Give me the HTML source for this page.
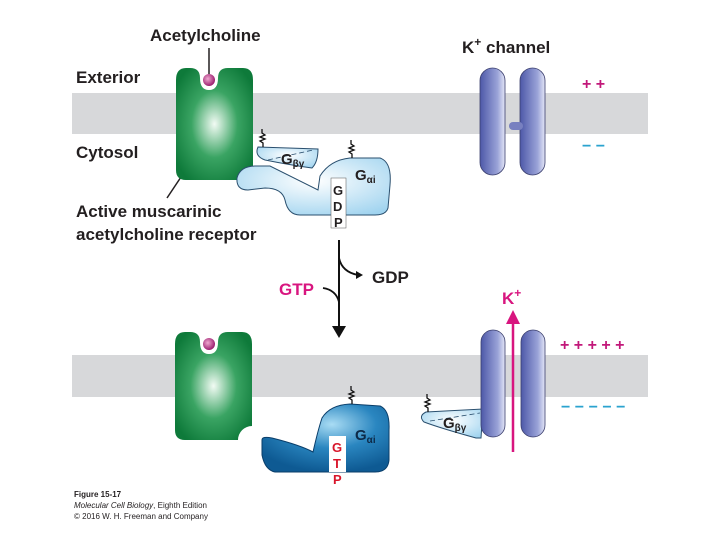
<!DOCTYPE html>
<html><head><meta charset="utf-8"><style>
body{margin:0;background:#fff}
svg{display:block}
text{font-family:"Liberation Sans",sans-serif;font-weight:bold}
</style></head><body>
<svg width="720" height="540" viewBox="0 0 720 540" xmlns="http://www.w3.org/2000/svg">
<defs>
<radialGradient id="gr" cx="0.5" cy="0.5" r="0.6"><stop offset="0" stop-color="#f2fbf4"/><stop offset="0.5" stop-color="#3aa463"/><stop offset="1" stop-color="#0e7a3a"/></radialGradient>
<radialGradient id="lb" cx="0.5" cy="0.4" r="0.7"><stop offset="0" stop-color="#ffffff"/><stop offset="1" stop-color="#9fd3ef"/></radialGradient>
<radialGradient id="db" cx="0.55" cy="0.3" r="0.7"><stop offset="0" stop-color="#a9dcf4"/><stop offset="0.5" stop-color="#2a86c0"/><stop offset="1" stop-color="#0e5a93"/></radialGradient>
<linearGradient id="ch" x1="0" x2="1"><stop offset="0" stop-color="#4d58a8"/><stop offset="0.7" stop-color="#9aa3d8"/><stop offset="1" stop-color="#e4e6f6"/></linearGradient>
<radialGradient id="lig" cx="0.4" cy="0.4" r="0.6"><stop offset="0" stop-color="#f0a8d0"/><stop offset="1" stop-color="#9c2070"/></radialGradient>
</defs>
<rect x="72" y="93" width="576" height="41" fill="#d7d8da"/>
<rect x="72" y="355" width="576" height="42" fill="#d7d8da"/>
<text x="150" y="41" font-size="17" fill="#231f20">Acetylcholine</text>
<line x1="209" y1="48" x2="209" y2="74" stroke="#231f20" stroke-width="1.5"/>
<text x="76" y="83" font-size="17" fill="#231f20">Exterior</text>
<text x="76" y="158" font-size="17" fill="#231f20">Cytosol</text>
<text x="76" y="217" font-size="17" fill="#231f20">Active muscarinic</text>
<text x="76" y="240" font-size="17" fill="#231f20">acetylcholine receptor</text>
<line x1="181" y1="177" x2="167" y2="198" stroke="#231f20" stroke-width="1.5"/>
<path d="M186,68 Q176,68 176,80 L176,170 Q176,180 186,180 L243,180 Q253,180 253,170 L253,80 Q253,68 243,68 L228,68 Q218,68 218,78 Q218,90 209,90 Q200,90 200,78 Q200,68 190,68 Z" fill="url(#gr)"/>
<circle cx="209" cy="80" r="6" fill="url(#lig)"/>
<path d="M237,178 Q240,166 256,166 L270,166 Q290,176 318,190 L320,176 Q330,160 350,158 L380,158 Q392,162 390,185 L388,208 Q386,215 375,215 L300,215 Q288,215 285,200 Q282,188 265,188 L248,190 Q236,190 237,178 Z" fill="url(#lb)" stroke="#2a4f6e" stroke-width="1"/>
<path d="M258,147 L318,149 Q318,162 312,168 Q290,165 265,160 Q254,156 258,147 Z" fill="url(#lb)" stroke="#2a4f6e" stroke-width="1"/>
<line x1="268" y1="160" x2="313" y2="150" stroke="#2a4f6e" stroke-width="0.8" stroke-dasharray="5,3"/>
<path d="M263,147 l0,-4 l-3,-2 l5,-2 l-5,-2 l5,-2 l-3,-2 l0,-4" fill="none" stroke="#111" stroke-width="1.3"/>
<path d="M352,158 l0,-4 l-3,-2 l5,-2 l-5,-2 l5,-2 l-3,-2 l0,-4" fill="none" stroke="#111" stroke-width="1.3"/>
<text x="281" y="164" font-size="15" fill="#231f20">G<tspan font-size="10" dy="3">βγ</tspan></text>
<text x="355" y="180" font-size="15" fill="#231f20">G<tspan font-size="10" dy="3">αi</tspan></text>
<rect x="331" y="178" width="15" height="50" fill="#fff" stroke="#555" stroke-width="0.5"/>
<text x="333" y="195" font-size="13" fill="#231f20">G</text>
<text x="333" y="211" font-size="13" fill="#231f20">D</text>
<text x="334" y="227" font-size="13" fill="#231f20">P</text>
<text x="462" y="53" font-size="17" fill="#231f20">K<tspan font-size="12" dy="-7">+</tspan><tspan dy="7"> channel</tspan></text>
<rect x="480" y="68" width="25" height="107" rx="12.5" fill="url(#ch)" stroke="#3b3f6e" stroke-width="0.8"/>
<rect x="520" y="68" width="25" height="107" rx="12.5" fill="url(#ch)" stroke="#3b3f6e" stroke-width="0.8"/>
<rect x="509" y="122" width="14" height="8" rx="4" fill="#7880c0"/>
<text x="582" y="89" font-size="16" fill="#c2187a">+ +</text>
<text x="582" y="151" font-size="16" fill="#2ba3cf">− −</text>
<line x1="339" y1="240" x2="339" y2="330" stroke="#111" stroke-width="2"/>
<path d="M332,326 L339,338 L346,326 Z" fill="#111"/>
<path d="M339,258 Q342,272 358,275" fill="none" stroke="#111" stroke-width="1.8"/>
<path d="M356,271 L363,275 L356,279 Z" fill="#111"/>
<path d="M323,288 Q336,290 339,302" fill="none" stroke="#111" stroke-width="1.8"/>
<text x="372" y="283" font-size="17" fill="#231f20">GDP</text>
<text x="279" y="295" font-size="17" fill="#d8157f">GTP</text>
<path d="M185,332 Q175,332 175,344 L175,430 Q175,440 185,440 L238,440 A14,14 0 0 1 252,426 L252,344 Q252,332 242,332 L228,332 Q218,332 218,342 Q218,354 209,354 Q200,354 200,342 Q200,332 190,332 Z" fill="url(#gr)"/>
<circle cx="209" cy="344" r="6" fill="url(#lig)"/>
<path d="M262,440 Q262,436 272,438 Q300,445 313,452 Q318,430 322,418 Q330,405 350,404 L380,406 Q390,410 389,430 L389,460 Q388,472 375,472 L275,472 Q265,470 262,455 Z" fill="url(#db)" stroke="#0a3e6a" stroke-width="1"/>
<path d="M352,404 l0,-4 l-3,-2 l5,-2 l-5,-2 l5,-2 l-3,-2 l0,-4" fill="none" stroke="#111" stroke-width="1.3"/>
<text x="355" y="440" font-size="15" fill="#0d2a48">G<tspan font-size="10" dy="3">αi</tspan></text>
<rect x="329" y="436" width="17" height="36" fill="#fff"/>
<text x="332" y="452" font-size="13" fill="#d8152a">G</text>
<text x="333" y="468" font-size="13" fill="#d8152a">T</text>
<text x="333" y="484" font-size="13" fill="#d8152a">P</text>
<path d="M426,412 L483,409 L481,438 L476,438 Q440,428 424,422 Q418,416 426,412 Z" fill="url(#lb)" stroke="#2a4f6e" stroke-width="1"/>
<line x1="430" y1="421" x2="480" y2="413" stroke="#2a4f6e" stroke-width="0.8" stroke-dasharray="5,3"/>
<path d="M428,412 l0,-4 l-3,-2 l5,-2 l-5,-2 l5,-2 l-3,-2 l0,-4" fill="none" stroke="#111" stroke-width="1.3"/>
<text x="443" y="428" font-size="15" fill="#231f20">G<tspan font-size="10" dy="3">βγ</tspan></text>
<rect x="481" y="330" width="24" height="107" rx="12" fill="url(#ch)" stroke="#3b3f6e" stroke-width="0.8"/>
<rect x="521" y="330" width="24" height="107" rx="12" fill="url(#ch)" stroke="#3b3f6e" stroke-width="0.8"/>
<line x1="513" y1="452" x2="513" y2="320" stroke="#d8157f" stroke-width="2.5"/>
<path d="M506,324 L513,310 L520,324 Z" fill="#d8157f"/>
<text x="502" y="304" font-size="17" fill="#d8157f">K<tspan font-size="12" dy="-7">+</tspan></text>
<text x="560" y="350" font-size="16" fill="#c2187a">+ + + + +</text>
<text x="561" y="412" font-size="16" fill="#2ba3cf">− − − − −</text>
<text x="74" y="497" font-size="8" fill="#231f20">Figure 15-17</text>
<text x="74" y="508" font-size="8" style="font-weight:normal;font-style:italic" fill="#231f20">Molecular Cell Biology<tspan style="font-style:normal">, Eighth Edition</tspan></text>
<text x="74" y="519" font-size="8" style="font-weight:normal" fill="#231f20">© 2016 W. H. Freeman and Company</text>
</svg>
</body></html>
